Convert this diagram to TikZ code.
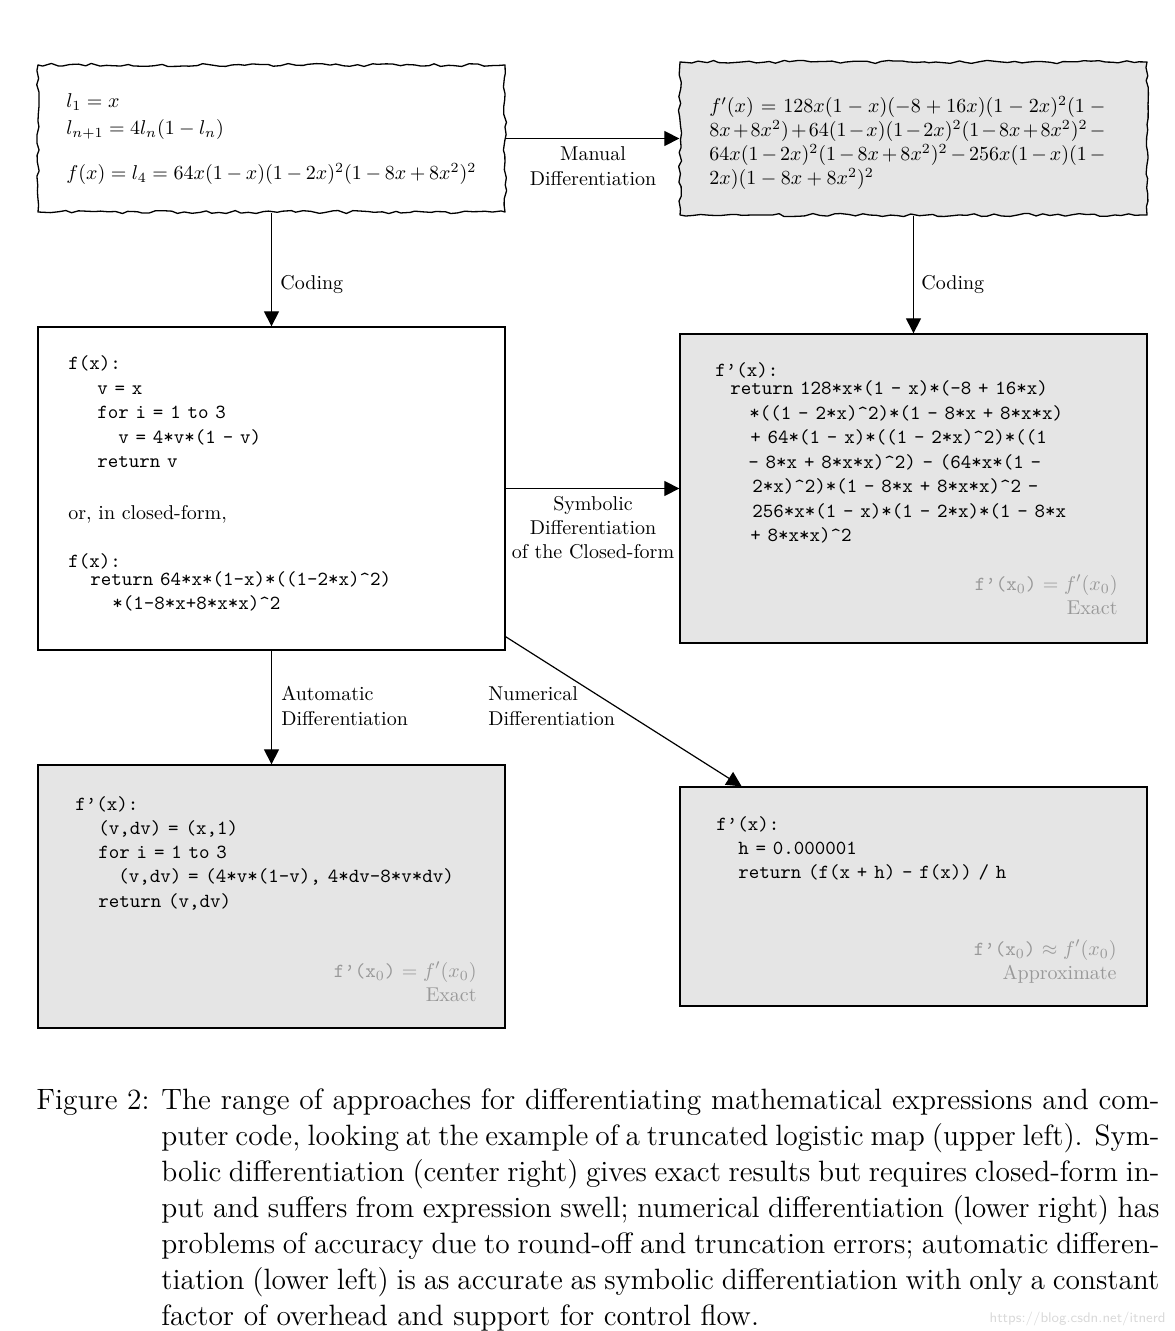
\documentclass[tikz,border=0pt]{standalone}
\usetikzlibrary{arrows.meta,decorations.pathmorphing,fit,calc}
\newdimen\px \px=0.5pt
\definecolor{boxgray}{gray}{0.9}
\definecolor{notegray}{gray}{0.6}
\newcommand\lblc[2][24.5\px]{\vtop{\lineskiplimit=-\maxdimen\baselineskip=#1\relax\halign{\hfil##\hfil\cr#2\crcr}}}
\newcommand\lbll[2][24.5\px]{\vtop{\lineskiplimit=-\maxdimen\baselineskip=#1\relax\halign{##\hfil\cr#2\crcr}}}
\newcommand\lblr[2][24\px]{\vtop{\lineskiplimit=-\maxdimen\baselineskip=#1\relax\halign{\hfil##\cr#2\crcr}}}
\newcommand\tq{\textquoteright}
\newcommand\tc{\textasciicircum}
\newcommand\fxo{\texttt{f\tq(x}$_0$\texttt{)}}
\newcommand\codefont{\ttfamily\spaceskip=3.4pt\relax}
\tikzset{
  x=0.5pt, y=-0.5pt,
  snakebox/.style={draw, line width=0.65pt, line join=round, decorate,
    decoration={random steps, segment length=3.5pt, amplitude=0.8pt},
    inner sep=0pt},
  plainbox/.style={draw, line width=0.65pt, inner sep=0pt},
  arr/.style={-{Triangle[length=7.5pt,width=7.5pt]}, line width=0.6pt},
  lbl/.style={inner sep=0pt},
  code/.style={inner sep=0pt, font=\codefont},
  note/.style={inner sep=0pt, text=notegray, anchor=base east},
}
\begin{document}
\begin{tikzpicture}
\pgfmathsetseed{1717}
\useasboundingbox (0,0) rectangle (1174,1331);
% boxes
\node[snakebox, fill=white, fit={(38,65)(505,212)}] (b1) {};
\node[snakebox, fill=boxgray, fit={(680,62)(1147,215)}] (b2) {};
\node[plainbox, fill=white, fit={(38,327)(505,650)}] (b3) {};
\node[plainbox, fill=boxgray, fit={(680,334)(1147,643)}] (b4) {};
\node[plainbox, fill=boxgray, fit={(38,765)(505,1028)}] (b5) {};
\node[plainbox, fill=boxgray, fit={(680,787)(1147,1006)}] (b6) {};

% box 1 text
\node[lbl, anchor=base west] (t1a) at (66,108) {$l_1 = x$};
\node[lbl, anchor=base west] (t1b) at (66,135) {$l_{n+1} = 4l_n(1-l_n)$};
\node[lbl, anchor=base west] (t1c) at (66,180) {\hbox to 205pt{$f(x) = l_4 = 64x(1-x)(1-2x)^2(1-8x+8x^2)^2$}};

% box 2 text
\node[lbl, anchor=base west] (t2) at (709,113) {\lbll[23.8\px]{%
\hbox to 198pt{$f'(x) = 128x(1-x)(-8+16x)(1-2x)^2(1\mskip\medmuskip-$}\cr
\hbox to 198pt{$8x+8x^2)+64(1-x)(1-2x)^2(1-8x+8x^2)^2\mskip\medmuskip-$}\cr
\hbox to 198pt{$64x(1-2x)^2(1-8x+8x^2)^2-256x(1-x)(1\mskip\medmuskip-$}\cr
$2x)(1-8x+8x^2)^2$}};

% box 3 text
\node[code, anchor=base west] (t3a) at (68,370) {\lbll{%
f(x):\cr
\kern29\px v = x\cr
\kern29\px for i = 1 to 3\cr
\kern50\px v = 4*v*(1 - v)\cr
\kern29\px return v}};
\node[lbl, anchor=base west] (t3b) at (68,519) {or, in closed-form,};
\node[code, anchor=base west] (t3c) at (68,567) {\lbll{%
f(x):\cr\noalign{\vskip-6.5\px}
\kern22\px return 64*x*(1-x)*((1-2*x)\tc2)\cr
\kern44\px *(1-8*x+8*x*x)\tc2}};

% box 4 text
\node[code, anchor=base west] (t4) at (715,377) {\lbll{%
f\tq(x):\cr\noalign{\vskip-6.5\px}
\kern15\px return 128*x*(1 - x)*(-8 + 16*x)\cr
\kern34\px *((1 - 2*x)\tc2)*(1 - 8*x + 8*x*x)\cr
\kern35\px + 64*(1 - x)*((1 - 2*x)\tc2)*((1\cr
\kern33\px - 8*x + 8*x*x)\tc2) - (64*x*(1 -\cr
\kern37\px 2*x)\tc2)*(1 - 8*x + 8*x*x)\tc2 -\cr
\kern37\px 256*x*(1 - x)*(1 - 2*x)*(1 - 8*x\cr
\kern35\px + 8*x*x)\tc2}};
\node[note] (n4) at (1118,590) {\lblr{\fxo{} $= f'(x_0)$\cr Exact}};

% box 5 text
\node[code, anchor=base west] (t5) at (75,810) {\lbll[24.25\px]{%
f\tq(x):\cr
\kern23\px (v,dv) = (x,1)\cr
\kern23\px for i = 1 to 3\cr
\kern43\px (v,dv) = (4*v*(1-v), 4*dv-8*v*dv)\cr
\kern23\px return (v,dv)}};
\node[note] (n5) at (477,977) {\lblr{\fxo{} $= f'(x_0)$\cr Exact}};

% box 6 text
\node[code, anchor=base west] (t6) at (716,830) {\lbll[24\px]{%
f\tq(x):\cr
\kern22\px h = 0.000001\cr
\kern22\px return (f(x + h) - f(x)) / h}};
\node[note] (n6) at (1117,955) {\lblr{\fxo{} $\approx f'(x_0)$\cr Approximate}};

% connectors
\draw[arr] (b1) -- (b2);
\draw[arr] (b1) -- (b3);
\draw[arr] (b2) -- (b4);
\draw[arr] (b3) -- (b4);
\draw[arr] (b3) -- (b5);
\draw[arr] ($(b3.south east)!0.043!(b3.north east)$) -- ($(b6.north west)!0.133!(b6.north east)$);

% connector labels
\node[lbl, anchor=base] (l12) at (593,161) {\lblc{Manual\cr Differentiation}};
\node[lbl, anchor=base west] (l13) at (280,290) {Coding};
\node[lbl, anchor=base west] (l24) at (921,290) {Coding};
\node[lbl, anchor=base] (l34) at (593,510) {\lblc[24\px]{Symbolic\cr Differentiation\cr of the Closed-form}};
\node[lbl, anchor=base west] (l35) at (281,700) {\lbll[25\px]{Automatic\cr Differentiation}};
\node[lbl, anchor=base west] (l36) at (488,700) {\lbll[25\px]{Numerical\cr Differentiation}};

% caption
\node[lbl, anchor=base west, font=\fontsize{14.7}{18}\selectfont] (cap) at (36,1109) {\lbll[36\px]{%
\hbox to 561.5pt{\makebox[62.5pt][l]{Figure 2:}The range of approaches for differentiating mathematical expressions and com-}\cr
\hbox to 561.5pt{\kern62.5pt puter code, looking at the example of a truncated logistic map (upper left). Sym-}\cr
\hbox to 561.5pt{\kern62.5pt bolic differentiation (center right) gives exact results but requires closed-form in-}\cr
\hbox to 561.5pt{\kern62.5pt put and suffers from expression swell; numerical differentiation (lower right) has}\cr
\hbox to 561.5pt{\kern62.5pt problems of accuracy due to round-off and truncation errors; automatic differen-}\cr
\hbox to 561.5pt{\kern62.5pt tiation (lower left) is as accurate as symbolic differentiation with only a constant}\cr
\kern62.5pt factor of overhead and support for control flow.}};
\node[anchor=base east, inner sep=0pt, font=\sffamily\fontsize{7}{8}\selectfont, text=black!15] (wm) at (1166,1322) {https://blog.csdn.net/itnerd};
\end{tikzpicture}
\end{document}
